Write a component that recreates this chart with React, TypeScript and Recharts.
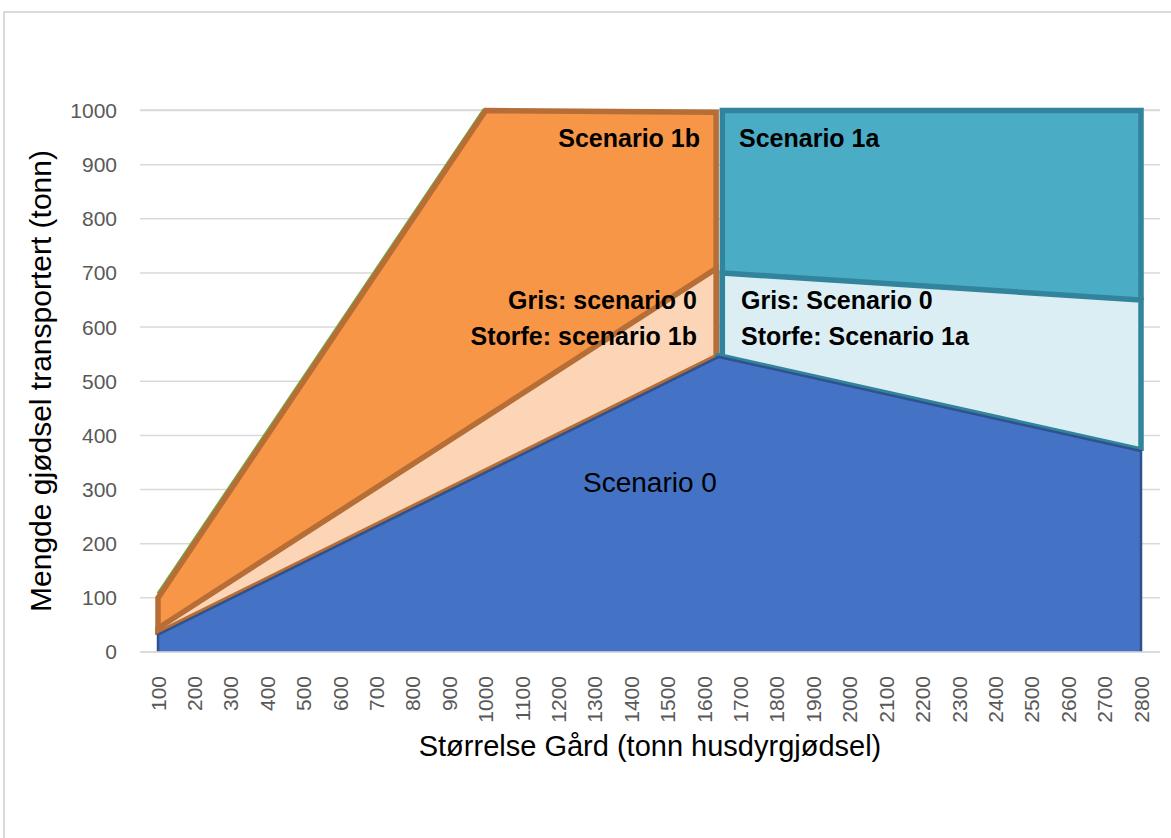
// App.tsx - Mengde gjødsel transportert per gårdsstørrelse (overlappende arealer)
import React from 'react'
import { ComposedChart, Area, XAxis, YAxis, CartesianGrid } from 'recharts'

// x = størrelse gård (tonn husdyrgjødsel), y = mengde transportert (tonn)
const xTicks = [
  100, 200, 300, 400, 500, 600, 700, 800, 900, 1000, 1100, 1200, 1300, 1400,
  1500, 1600, 1700, 1800, 1900, 2000, 2100, 2200, 2300, 2400, 2500, 2600, 2700, 2800,
]
const yTicks = [0, 100, 200, 300, 400, 500, 600, 700, 800, 900, 1000]

const scenario1b = [
  { x: 100, y: 32 }, { x: 100, y: 100 }, { x: 1000, y: 1000 }, { x: 1633, y: 997 }, { x: 1633, y: 0 },
]
const scenario1bKant = [{ x: 100, y: 108 }, { x: 994, y: 1001 }, { x: 1000, y: 1001 }]
const scenario1a = [
  { x: 1650, y: 0 }, { x: 1650, y: 1000 }, { x: 2800, y: 1000 }, { x: 2800, y: 650 },
]
const storfe1b = [
  { x: 100, y: 32 }, { x: 100, y: 44 }, { x: 1633, y: 708 }, { x: 1633, y: 0 },
]
const storfe1a = [
  { x: 1650, y: 0 }, { x: 1650, y: 700 }, { x: 2800, y: 650 }, { x: 2800, y: 371 },
]
const scenario0 = [
  { x: 100, y: 0 }, { x: 100, y: 32 }, { x: 1640, y: 545 }, { x: 2800, y: 371 }, { x: 2800, y: 0 },
]
// kantlinjer langs toppen av scenario 0
const storfe1bKant = [{ x: 100, y: 32 }, { x: 1640, y: 545 }, { x: 1640, y: 0 }]
const storfe1aKant = [{ x: 1640, y: 0 }, { x: 1640, y: 545 }, { x: 2800, y: 371 }]

const BROWN = '#B66E36'
const TEAL = '#31849B'

const XTick = ({ x, y, payload }: any) => (
  <text
    x={x}
    y={y + 16}
    transform={`rotate(-90, ${x}, ${y + 16})`}
    textAnchor="end"
    dy="0.36em"
    fill="#595959"
    fontSize={21}
  >
    {payload.value}
  </text>
)

const note = (bold: boolean, size: number): React.CSSProperties => ({
  position: 'absolute',
  fontSize: size,
  fontWeight: bold ? 'bold' : 'normal',
  lineHeight: 1,
  whiteSpace: 'nowrap',
  color: '#000',
})

export default function App() {
  return (
    <div
      style={{
        position: 'absolute', left: 0, top: 0, width: 1171, height: 838,
        overflow: 'hidden', background: '#fff',
        fontFamily: '"Liberation Sans", Arial, sans-serif',
      }}
    >
      <div style={{ position: 'absolute', left: 3, top: 11, width: 1300, height: 1000, border: '2px solid #D9D9D9' }} />

      <div style={{ position: 'absolute', left: 0, top: 0 }}>
        <ComposedChart width={1171} height={838} margin={{ top: 110, right: 11, bottom: 0, left: 0 }}>
          <CartesianGrid horizontal vertical={false} stroke="#D9D9D9" strokeWidth={1.5} />
          <XAxis
            type="number"
            dataKey="x"
            domain={[100, 2800]}
            ticks={xTicks}
            interval={0}
            padding={{ left: 18, right: 19 }}
            height={186}
            tickLine={false}
            axisLine={{ stroke: '#D9D9D9', strokeWidth: 1.5 }}
            tick={<XTick />}
            label={{ value: 'Størrelse Gård (tonn husdyrgjødsel)', position: 'insideBottom', offset: 82, fill: '#000', fontSize: 29 }}
          />
          <YAxis
            type="number"
            domain={[0, 1000]}
            ticks={yTicks}
            interval={0}
            width={140}
            axisLine={false}
            tickLine={false}
            tickSize={0}
            tickMargin={23}
            tick={{ fill: '#595959', fontSize: 21 }}
            label={{ value: 'Mengde gjødsel transportert (tonn)', angle: -90, position: 'insideLeft', offset: 40, fill: '#000', fontSize: 30, style: { textAnchor: 'middle' } }}
          />

          <Area data={scenario1bKant} dataKey="y" name="kant" type="linear" fill="none" stroke="#70AD47" strokeWidth={3} dot={false} activeDot={false} isAnimationActive={false} />
          <Area data={scenario1b} dataKey="y" name="Scenario 1b" type="linear" fill="#F79646" fillOpacity={1} stroke={BROWN} strokeWidth={5.5} dot={false} activeDot={false} isAnimationActive={false} />
          <Area data={scenario1a} dataKey="y" name="Scenario 1a" type="linear" fill="#4BACC6" fillOpacity={1} stroke={TEAL} strokeWidth={5.5} dot={false} activeDot={false} isAnimationActive={false} />
          <Area data={storfe1b} dataKey="y" name="Storfe 1b" type="linear" fill="#FBD5B5" fillOpacity={1} stroke={BROWN} strokeWidth={5.5} dot={false} activeDot={false} isAnimationActive={false} />
          <Area data={storfe1a} dataKey="y" name="Storfe 1a" type="linear" fill="#DBEEF4" fillOpacity={1} stroke={TEAL} strokeWidth={5.5} dot={false} activeDot={false} isAnimationActive={false} />
          <Area data={storfe1bKant} dataKey="y" name="Storfe 1b kant" type="linear" fill="none" stroke={BROWN} strokeWidth={8} strokeLinejoin="round" dot={false} activeDot={false} isAnimationActive={false} />
          <Area data={storfe1aKant} dataKey="y" name="Storfe 1a kant" type="linear" fill="none" stroke={TEAL} strokeWidth={8} strokeLinejoin="round" dot={false} activeDot={false} isAnimationActive={false} />
          <Area data={scenario0} dataKey="y" name="Scenario 0" type="linear" fill="#4472C4" fillOpacity={1} stroke="#2F528F" strokeWidth={2.5} dot={false} activeDot={false} isAnimationActive={false} />
        </ComposedChart>
      </div>

      <div style={{ ...note(true, 25), right: 471, top: 126 }}>Scenario 1b</div>
      <div style={{ ...note(true, 25), left: 739, top: 126 }}>Scenario 1a</div>
      <div style={{ ...note(true, 25), right: 474, top: 288 }}>Gris: scenario 0</div>
      <div style={{ ...note(true, 25), right: 474, top: 324 }}>Storfe: scenario 1b</div>
      <div style={{ ...note(true, 25), left: 741, top: 288 }}>Gris: Scenario 0</div>
      <div style={{ ...note(true, 25), left: 741, top: 324 }}>Storfe: Scenario 1a</div>
      <div style={{ ...note(false, 28), left: 583, top: 469 }}>Scenario 0</div>
    </div>
  )
}
